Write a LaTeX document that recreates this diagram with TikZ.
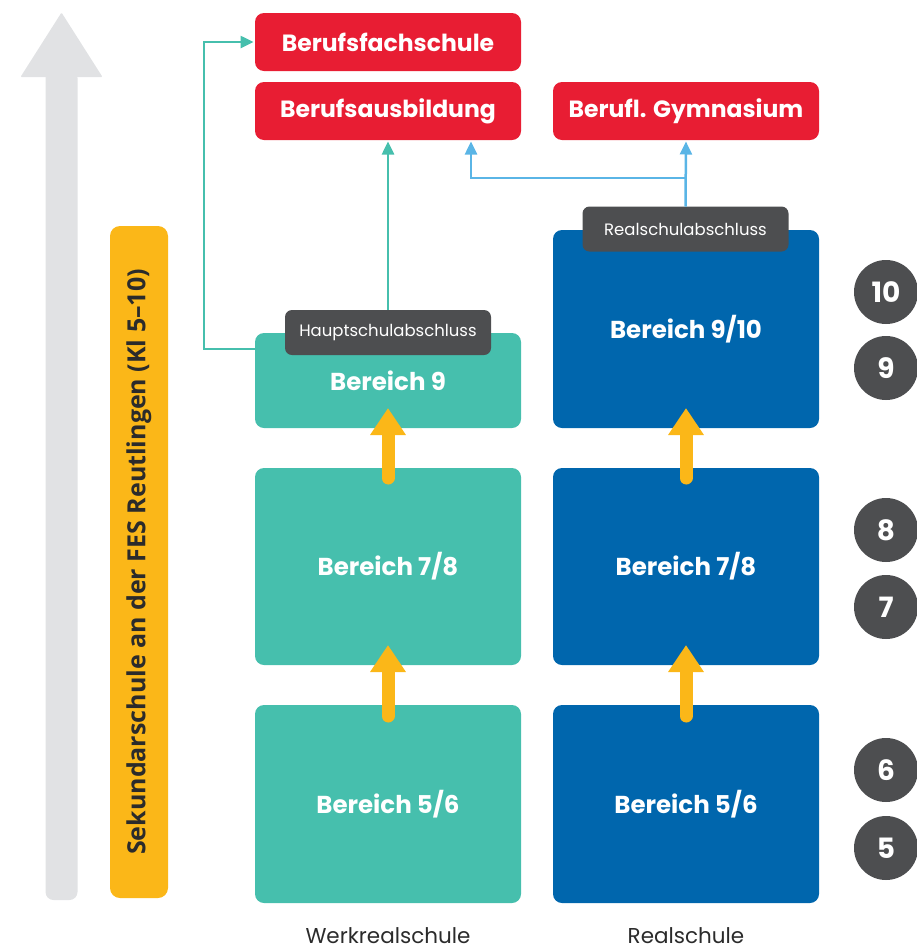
\documentclass[tikz,border=0pt]{standalone}
\usepackage{fontspec}
\setmainfont{Poppins}
\newfontfamily\sidefont{Open Sans}
\usetikzlibrary{positioning,shapes,arrows.meta}

\definecolor{fesred}{HTML}{E81D33}
\definecolor{festeal}{HTML}{46BFAD}
\definecolor{fesblue}{HTML}{0066AD}
\definecolor{fesdark}{HTML}{4D4E50}
\definecolor{fesyellow}{HTML}{FBB718}
\definecolor{fesgrey}{HTML}{E1E2E4}
\definecolor{feslight}{HTML}{5AB5E6}
\definecolor{fesink}{HTML}{2B2B2B}

\tikzset{
  box/.style={rectangle, rounded corners=9pt, minimum width=266pt, outer sep=0pt,
    text=white, font=\fontsize{24.5}{28}\selectfont\bfseries},
  redbox/.style={box, fill=fesred, minimum height=58pt, font=\fontsize{23.5}{26}\selectfont\bfseries},
  wrbox/.style={box, fill=festeal},
  rsbox/.style={box, fill=fesblue},
  tag/.style={rectangle, rounded corners=7pt, fill=fesdark, text=white, outer sep=0pt,
    minimum width=206pt, minimum height=45pt, font=\fontsize{16.5}{18}\selectfont},
  klasse/.style={circle, fill=fesdark, text=white, minimum size=64pt, inner sep=0pt,
    font=\fontsize{28}{30}\selectfont\bfseries},
  schulart/.style={text=fesink, anchor=base, inner sep=0pt, font=\fontsize{21.5}{24}\selectfont},
  uparrow/.style={draw=fesyellow, line width=13pt, line cap=round,
    -{Triangle[width=34pt,length=27pt]}},
  tealline/.style={draw=festeal, line width=2.5pt, -{Triangle[width=12pt,length=13pt]}},
  blueline/.style={draw=feslight, line width=2.5pt, -{Triangle[width=12pt,length=13pt]}}
}

\begin{document}
\begin{tikzpicture}[x=1pt,y=-1pt]
    \useasboundingbox (0,0) rectangle (917,951);

    % big grey arrow and side bar
    \fill[fesgrey, rounded corners=1pt] (20.5,77) -- (61.5,12.5) -- (102.5,77) -- cycle;
    \fill[fesgrey, rounded corners=8pt] (45.5,70) rectangle (77.5,900);
    \node[rectangle, rounded corners=10pt, fill=fesyellow, minimum width=58pt, minimum height=672pt,
      inner sep=0pt] (side) at (139,562) {};
    \node[rotate=90, text=fesink, font=\sidefont\fontsize{25}{27}\selectfont\bfseries] (sidetxt) at (side)
      {Sekundarschule an der FES Reutlingen (Kl 5–10)};

    % top: vocational paths
    \node[redbox] (bfs) at (388,42) {Berufsfachschule};
    \node[redbox, below=11pt of bfs] (bab) {Berufsausbildung};
    \node[redbox, right=32pt of bab] (bgym) {Berufl. Gymnasium};

    % Werkrealschule
    \node[wrbox, minimum height=95pt] (wr9) at (388,380.5) {Bereich 9};
    \node[wrbox, minimum height=197pt] (wr78) at (388,566.5) {Bereich 7/8};
    \node[wrbox, minimum height=198pt] (wr56) at (388,804) {Bereich 5/6};

    % Realschule
    \node[rsbox, minimum height=198pt] (rs910) at (686,329) {Bereich 9/10};
    \node[rsbox, minimum height=197pt] (rs78) at (686,566.5) {Bereich 7/8};
    \node[rsbox, minimum height=198pt] (rs56) at (686,804) {Bereich 5/6};

    % school leaving certificates
    \node[tag] (hsa) at (388,332.5) {Hauptschulabschluss};
    \node[tag] (rsa) at (685.5,229) {Realschulabschluss};

    % yellow steps
    \draw[uparrow] ([yshift=-10pt]wr78.north) -- ([yshift=20pt]wr9.south);
    \draw[uparrow] ([yshift=-11pt]wr56.north) -- ([yshift=20pt]wr78.south);
    \draw[uparrow] ([yshift=-10pt]rs78.north) -- ([yshift=20pt]rs910.south);
    \draw[uparrow] ([yshift=-11pt]rs56.north) -- ([yshift=20pt]rs78.south);

    % connectors
    \draw[tealline, shorten >=1.5pt] (hsa.north) -- (bab.south);
    \draw[tealline, shorten >=1.5pt] ([yshift=-16pt]wr9.north west) -- ++(-51,0) |- (bfs.west);
    \draw[blueline, shorten >=1.5pt] (rsa.north) -- (bgym.south);
    \coordinate (split) at (686,178);
    \draw[blueline, shorten >=1.5pt] (split) -| ([xshift=-50pt]bab.south east);

    % grade circles
    \node[klasse] (k10) at (886,292) {10};
    \node[klasse] (k9) at (886,368) {9};
    \node[klasse] (k8) at (886,530) {8};
    \node[klasse] (k7) at (886,607) {7};
    \node[klasse] (k6) at (886,770) {6};
    \node[klasse] (k5) at (886,848) {5};

    % school types
    \node[schulart] (wrs) at (388,943) {Werkrealschule};
    \node[schulart] (rs) at (686,943) {Realschule};
\end{tikzpicture}
\end{document}
